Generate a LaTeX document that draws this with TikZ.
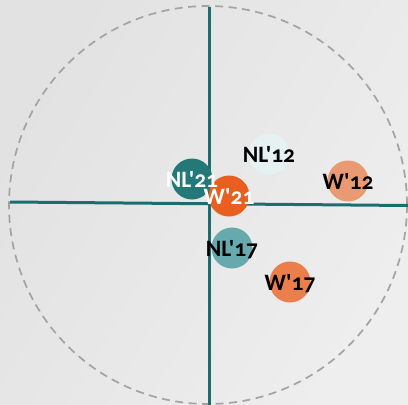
\documentclass[tikz,border=0pt]{standalone}
\usepackage{fontspec}
\setmainfont{Carlito}[Numbers=OldStyle, Ligatures=TeXOff]
\definecolor{axis}{HTML}{1B6D6F}
\definecolor{bgA}{HTML}{E2E2E2}
\definecolor{bgB}{HTML}{EEEEEE}
\definecolor{cNLa}{HTML}{237878}
\definecolor{cWa}{HTML}{E8601F}
\definecolor{cNLb}{HTML}{E6F1F1}
\definecolor{cWb}{HTML}{E99A72}
\definecolor{cNLc}{HTML}{66AAAD}
\definecolor{cWc}{HTML}{EB7E4B}
\definecolor{dashc}{HTML}{A3A3A3}
\tikzset{
  dot/.style={circle, minimum size=41pt, inner sep=0pt, draw=none},
  lbl/.style={anchor=base, inner sep=0pt, font=\fontsize{23.5pt}{23.5pt}\selectfont\bfseries},
  axisline/.style={draw=axis, line width=3pt},
}
\begin{document}
\begin{tikzpicture}[x=1pt,y=-1pt]
\useasboundingbox (0,0) rectangle (408,405);
\clip (0,0) rectangle (408,405);
\shade[left color=bgA, right color=bgB, shading angle=60] (0,0) rectangle (408,405);
\draw[dashc, line width=1.7pt, dash pattern=on 8pt off 5.5pt] (208,205) circle (199);
\coordinate (vt) at (209,7);
\coordinate (vb) at (209,405);
\coordinate (hl) at (10,202);
\coordinate (hr) at (408,205.5);
\draw[axisline] (vt) -- (vb);
\draw[axisline] (hl) -- (hr);
\node[dot, fill=cNLa] (nl21) at (192,179) {};
\node[dot, fill=cWa] (w21) at (229,196) {};
\node[dot, fill=cNLb] (nl12) at (269,154) {};
\node[dot, fill=cWb] (w12) at (348,181) {};
\node[dot, fill=cNLc] (nl17) at (232,248) {};
\node[dot, fill=cWc] (w17) at (290,282) {};
\node[lbl, text=white] (t21n) at ([yshift=-8pt]nl21.center) {NL'21};
\node[lbl, text=white] (t21w) at ([yshift=-8pt]w21.center) {W'21};
\node[lbl, text=black] (t12n) at ([yshift=-8pt]nl12.center) {NL'12};
\node[lbl, text=black] (t12w) at ([yshift=-8pt]w12.center) {W'12};
\node[lbl, text=black] (t17n) at ([yshift=-8pt]nl17.center) {NL'17};
\node[lbl, text=black] (t17w) at ([yshift=-8pt]w17.center) {W'17};
\end{tikzpicture}
\end{document}
